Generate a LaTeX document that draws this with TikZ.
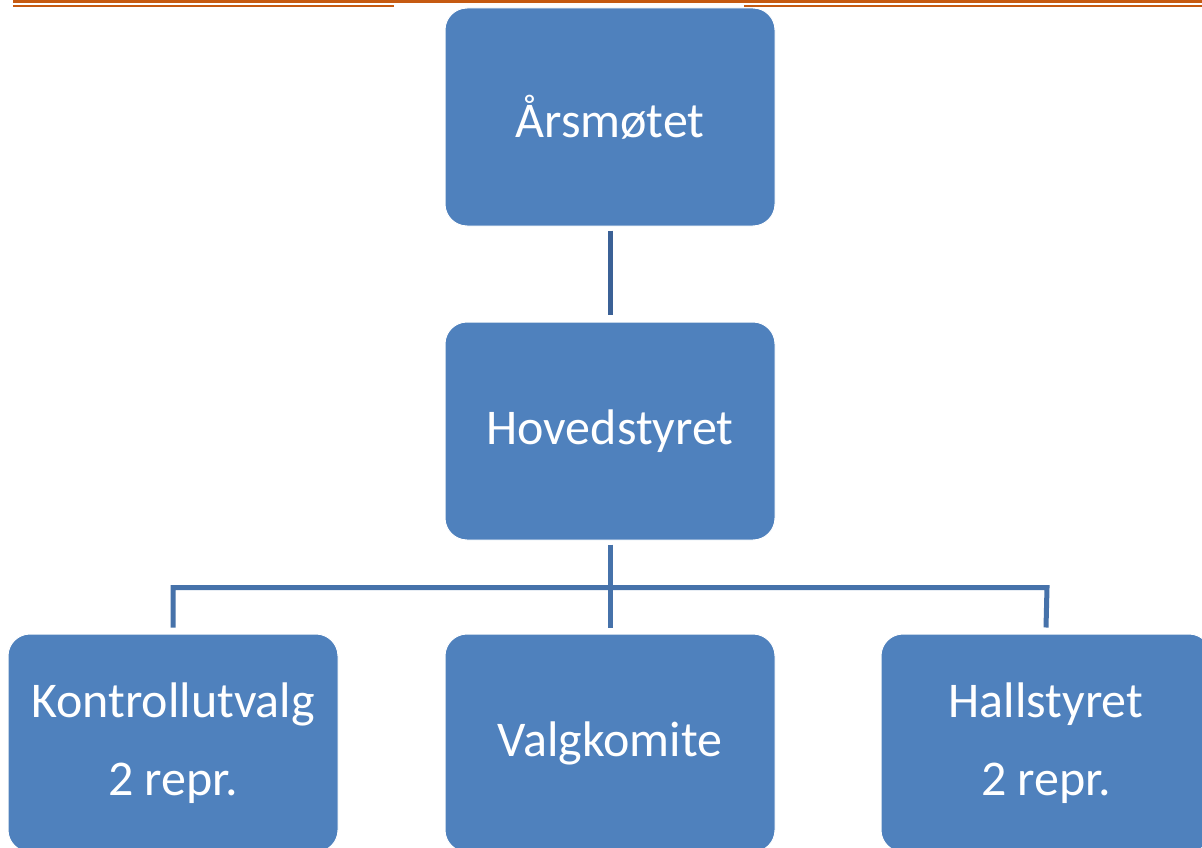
\documentclass[tikz,border=0pt]{standalone}
\usepackage{fontspec}
\setmainfont{Carlito}
\definecolor{boxblue}{HTML}{4F81BD}
\definecolor{linkA}{HTML}{3B6196}
\definecolor{linkB}{HTML}{4672AA}
\definecolor{rule}{HTML}{C55A11}
\begin{document}
\begin{tikzpicture}[x=1pt,y=-1pt,
  orgbox/.style={draw=white,line width=1pt,fill=boxblue,rounded corners=22pt,
    minimum width=330pt,minimum height=218pt,inner sep=0pt,text=white,
    font=\fontsize{50}{78}\selectfont,align=center},
  linkone/.style={draw=linkA,line width=5pt},
  linktwo/.style={draw=linkB,line width=5pt}]
\useasboundingbox (0,0) rectangle (1202,848);
\begin{scope}
\clip (0,0) rectangle (1202,848);
\fill[white] (0,0) rectangle (1202,848);
% header rules
\draw[rule,line width=3.2pt] (13,1.6) -- (1202,1.6);
\draw[rule,line width=2pt] (13,5.6) -- (394,5.6);
\draw[rule,line width=2pt] (744,5.6) -- (1202,5.6);
% boxes
\node[orgbox] (arsm) at (610,117) {Årsmøtet};
\node[orgbox] (hoved) at (610,431) {Hovedstyret};
\node[orgbox] (kontroll) at (173,743) {Kontrollutvalg\\2 repr.};
\node[orgbox] (valg) at (610,743) {Valgkomite};
\node[orgbox] (hall) at (1046,743) {Hallstyret\\2 repr.};
% connectors
\draw[linkone] ([yshift=-4pt]arsm.south) -- ([yshift=7pt]hoved.north);
\coordinate (jl) at (173,587.5);
\coordinate (jr) at (1047,587.5);
\draw[linktwo] ([yshift=-4pt]hoved.south) -- ([yshift=6pt]valg.north);
\draw[linktwo,line join=miter] ([yshift=6pt]kontroll.north) -- (jl) -- (jr) -- ([yshift=6pt]hall.north);
\end{scope}
\end{tikzpicture}
\end{document}
